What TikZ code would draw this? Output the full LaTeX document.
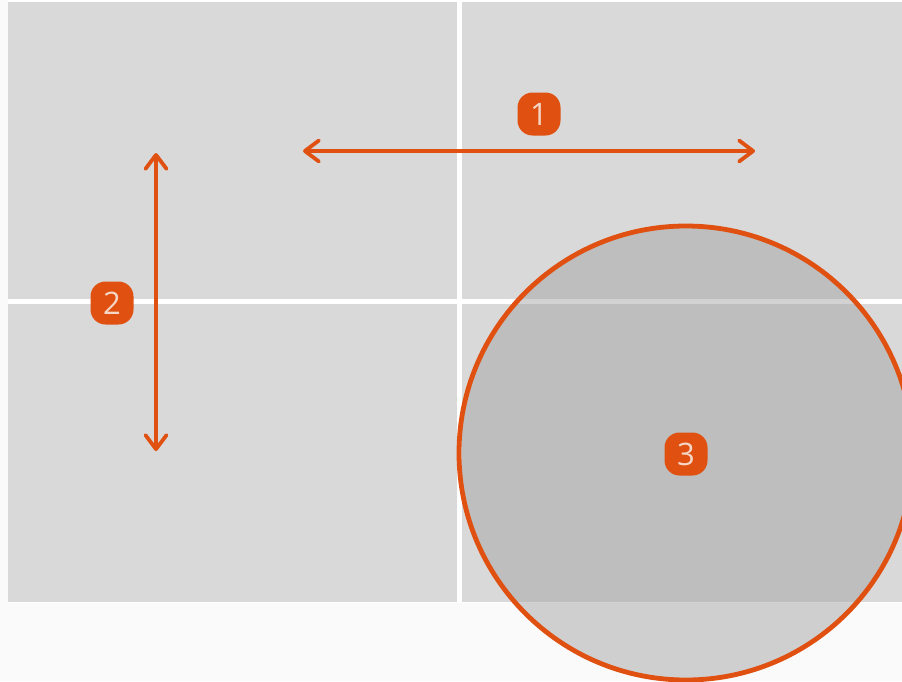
\documentclass[tikz,border=0pt]{standalone}
\usepackage{fontspec}
\setmainfont{Open Sans}
\usetikzlibrary{arrows.meta, positioning}
\definecolor{accent}{RGB}{224, 80, 16}
\definecolor{tile}{RGB}{217, 217, 217}
\definecolor{page}{RGB}{250, 250, 250}
\definecolor{lens}{RGB}{163, 163, 163}
\definecolor{numtext}{RGB}{245, 215, 200}
\tikzset{
    tilebox/.style={fill=tile, draw=none},
    move/.style={draw=accent, line width=3.8pt, line cap=round,
        {Straight Barb[length=14pt, width=21pt, line cap=round, line join=round]}-{Straight Barb[length=14pt, width=21pt, line cap=round, line join=round]}},
    badge/.style={fill=accent, rounded corners=15pt, minimum size=43pt, inner sep=0pt,
        text=numtext, font=\fontsize{31}{31}\selectfont},
    zoomarea/.style={draw=accent, line width=4.8pt, fill=lens, fill opacity=0.485}
}
\begin{document}
\begin{tikzpicture}[x=1pt, y=-1pt]
    % page and margins
    \fill[page] (0,0) rectangle (902,681);
    \useasboundingbox (0,0) rectangle (902,681);
    \fill[white] (8,0) rectangle (902,603);

    % four tiles
    \fill[tilebox] (8,2) rectangle (457,299);
    \fill[tilebox] (462,2) rectangle (902,299);
    \fill[tilebox] (8,304) rectangle (457,602);
    \fill[tilebox] (462,304) rectangle (902,602);

    % pan and zoom gestures
    \coordinate (panleft) at (303,151);
    \coordinate (panright) at (755,151);
    \coordinate (pantop) at (156,153);
    \coordinate (panbottom) at (156,451);
    \draw[move] (panleft) -- (panright);
    \draw[move] (pantop) -- (panbottom);

    \path[zoomarea] (686,453) circle[radius=227];

    \node[badge] (one) at (539,114) {1};
    \node[badge] (two) at (112,303) {2};
    \node[badge] (three) at (686,454) {3};
\end{tikzpicture}
\end{document}
